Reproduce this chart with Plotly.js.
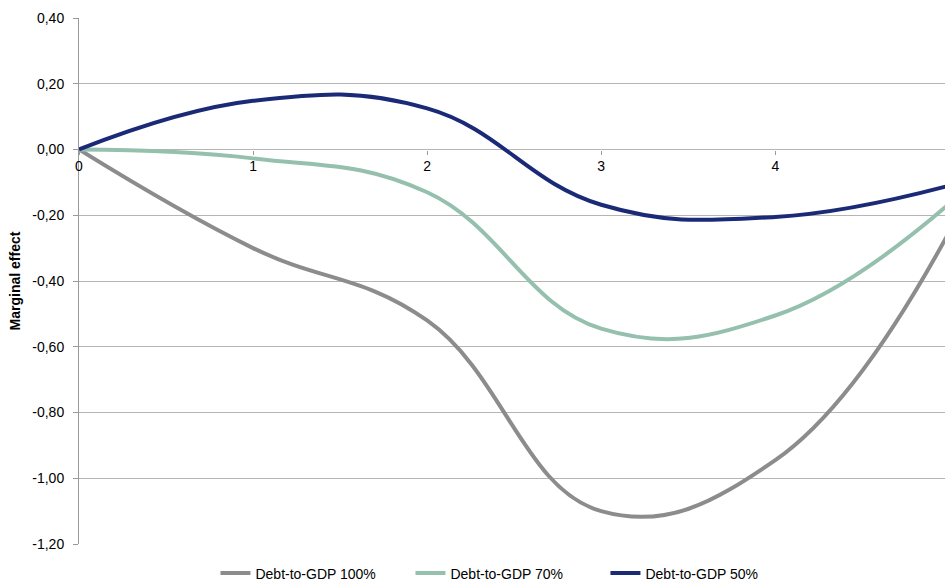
<!DOCTYPE html>
<html>
<head>
<meta charset="utf-8">
<script src="https://cdn.plot.ly/plotly-3.0.1.min.js"></script>
<style>html,body{margin:0;padding:0;background:#fff;}#chart{width:945px;height:584px;}</style>
</head>
<body>
<div id="chart"></div>
<script>
const horizon = [0, 1, 2, 3, 4, 5];
const debt100 = [0, -0.30, -0.52, -1.10, -0.945, -0.25];
const debt70 = [0, -0.027, -0.13, -0.545, -0.505, -0.165];
const debt50 = [0, 0.148, 0.125, -0.168, -0.205, -0.11];
const seriesNames = ['Debt-to-GDP 100%', 'Debt-to-GDP 70%', 'Debt-to-GDP 50%'];
const yTickVals = [0.4, 0.2, 0, -0.2, -0.4, -0.6, -0.8, -1.0, -1.2];
const yTickText = ['0,40', '0,20', '0,00', '-0,20', '-0,40', '-0,60', '-0,80', '-1,00', '-1,20'];
const xTickVals = [0, 1, 2, 3, 4];

const colors = ['#8c8c8c', '#94c0ad', '#1b2a77'];
const data = [debt100, debt70, debt50].map((ys, i) => ({
  x: horizon, y: ys, name: seriesNames[i], type: 'scatter', mode: 'lines',
  line: {color: colors[i], width: 4, shape: 'spline', smoothing: 1.2}
}));

const yMin = -1.2, yMax = 0.4;
const layout = {
  width: 945, height: 584,
  margin: {l: 79, r: 0, t: 18, b: 40, autoexpand: false},
  paper_bgcolor: '#fff', plot_bgcolor: '#fff',
  font: {family: 'Liberation Sans, Arial, sans-serif', color: '#000', size: 14},
  showlegend: true,
  legend: {orientation: 'h', xref: 'container', x: 0.228, xanchor: 'left', yref: 'container', y: 0.018, yanchor: 'middle',
           font: {size: 14}, itemwidth: 30, traceorder: 'normal',
           entrywidth: 150, entrywidthmode: 'pixels'},
  xaxis: {
    range: [0, 4.975], anchor: 'free', position: (0 - yMin) / (yMax - yMin),
    tickvals: xTickVals, ticktext: xTickVals.map(String),
    showgrid: false, zeroline: false, showline: false,
    ticks: 'outside', ticklen: 4, tickcolor: '#999', tickfont: {size: 14}
  },
  yaxis: {
    range: [yMin, yMax], tickvals: yTickVals, ticktext: yTickText,
    showgrid: true, gridcolor: '#b5b5b5', gridwidth: 1,
    zeroline: false, showline: true, linecolor: '#999', linewidth: 1,
    ticks: 'outside', ticklen: 5, tickcolor: '#999', tickfont: {size: 14},
    ticklabelstandoff: 6,
    title: {text: '<b>Marginal effect</b>', font: {size: 14}, standoff: 8}
  }
};
Plotly.newPlot('chart', data, layout, {staticPlot: true, displayModeBar: false});
</script>
</body>
</html>
